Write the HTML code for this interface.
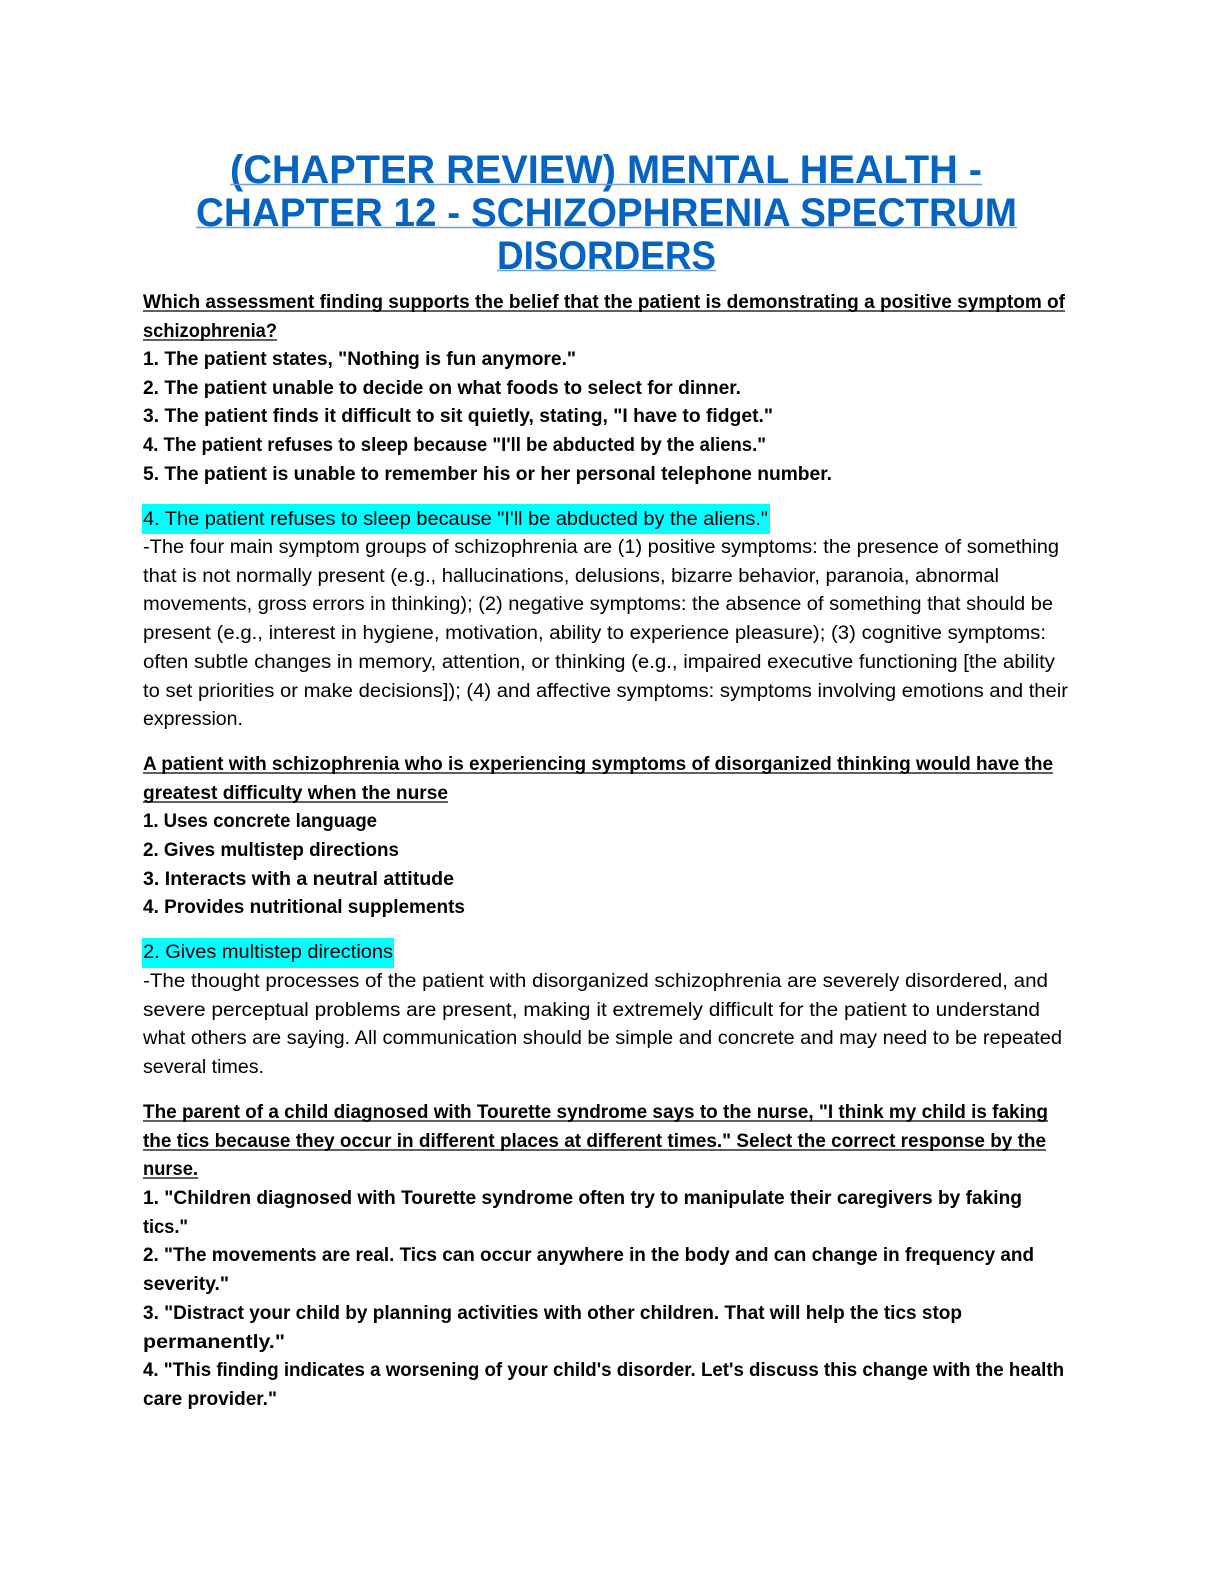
<!DOCTYPE html>
<html><head><meta charset="utf-8"><style>
html,body{margin:0;padding:0;background:#fff;overflow:hidden;width:1224px;height:1584px}
svg{display:block;position:absolute;left:0;top:0}
.t{font-family:"Liberation Sans",sans-serif;font-weight:bold;font-size:40px;fill:#0563c1}
.b{font-family:"Liberation Sans",sans-serif;font-size:19px;fill:#000}
.bb{font-family:"Liberation Sans",sans-serif;font-size:19px;font-weight:bold;fill:#000}
</style></head><body>
<svg width="1224" height="1584" viewBox="0 0 1224 1584" xmlns="http://www.w3.org/2000/svg">
<g class="t">
<text x="230" y="183" textLength="752" lengthAdjust="spacingAndGlyphs">(CHAPTER REVIEW) MENTAL HEALTH -</text>
<text x="196" y="226" textLength="821" lengthAdjust="spacingAndGlyphs">CHAPTER 12 - SCHIZOPHRENIA SPECTRUM</text>
<text x="497" y="269" textLength="219" lengthAdjust="spacingAndGlyphs">DISORDERS</text>
</g>
<g stroke="#6fa0dc" stroke-width="1.5">
<line x1="230" y1="184.5" x2="982" y2="184.5"/>
<line x1="196" y1="227.5" x2="1017" y2="227.5"/>
<line x1="497" y1="270.5" x2="716" y2="270.5"/>
</g>
<rect x="142" y="504" width="628" height="30" fill="#00ffff"/>
<rect x="142" y="938" width="252" height="30" fill="#00ffff"/>
<g class="bb">
<text x="143" y="308" textLength="922" lengthAdjust="spacingAndGlyphs">Which assessment finding supports the belief that the patient is demonstrating a positive symptom of</text>
<text x="143" y="337" textLength="134" lengthAdjust="spacingAndGlyphs">schizophrenia?</text>
<text x="143" y="365" textLength="433" lengthAdjust="spacingAndGlyphs">1. The patient states, "Nothing is fun anymore."</text>
<text x="143" y="394" textLength="598" lengthAdjust="spacingAndGlyphs">2. The patient unable to decide on what foods to select for dinner.</text>
<text x="143" y="422" textLength="630" lengthAdjust="spacingAndGlyphs">3. The patient finds it difficult to sit quietly, stating, "I have to fidget."</text>
<text x="143" y="451" textLength="623" lengthAdjust="spacingAndGlyphs">4. The patient refuses to sleep because "I'll be abducted by the aliens."</text>
<text x="143" y="480" textLength="689" lengthAdjust="spacingAndGlyphs">5. The patient is unable to remember his or her personal telephone number.</text>
<text x="143" y="770" textLength="910" lengthAdjust="spacingAndGlyphs">A patient with schizophrenia who is experiencing symptoms of disorganized thinking would have the</text>
<text x="143" y="799" textLength="305" lengthAdjust="spacingAndGlyphs">greatest difficulty when the nurse</text>
<text x="143" y="827" textLength="234" lengthAdjust="spacingAndGlyphs">1. Uses concrete language</text>
<text x="143" y="856" textLength="256" lengthAdjust="spacingAndGlyphs">2. Gives multistep directions</text>
<text x="143" y="885" textLength="311" lengthAdjust="spacingAndGlyphs">3. Interacts with a neutral attitude</text>
<text x="143" y="913" textLength="322" lengthAdjust="spacingAndGlyphs">4. Provides nutritional supplements</text>
<text x="143" y="1118" textLength="905" lengthAdjust="spacingAndGlyphs">The parent of a child diagnosed with Tourette syndrome says to the nurse, "I think my child is faking</text>
<text x="143" y="1147" textLength="903" lengthAdjust="spacingAndGlyphs">the tics because they occur in different places at different times." Select the correct response by the</text>
<text x="143" y="1175" textLength="55" lengthAdjust="spacingAndGlyphs">nurse.</text>
<text x="143" y="1204" textLength="879" lengthAdjust="spacingAndGlyphs">1. "Children diagnosed with Tourette syndrome often try to manipulate their caregivers by faking</text>
<text x="143" y="1233" textLength="45" lengthAdjust="spacingAndGlyphs">tics."</text>
<text x="143" y="1261" textLength="891" lengthAdjust="spacingAndGlyphs">2. "The movements are real. Tics can occur anywhere in the body and can change in frequency and</text>
<text x="143" y="1290" textLength="86" lengthAdjust="spacingAndGlyphs">severity."</text>
<text x="143" y="1319" textLength="819" lengthAdjust="spacingAndGlyphs">3. "Distract your child by planning activities with other children. That will help the tics stop</text>
<text x="143" y="1348" textLength="142" lengthAdjust="spacingAndGlyphs">permanently."</text>
<text x="143" y="1376" textLength="921" lengthAdjust="spacingAndGlyphs">4. "This finding indicates a worsening of your child's disorder. Let's discuss this change with the health</text>
<text x="143" y="1405" textLength="134" lengthAdjust="spacingAndGlyphs">care provider."</text>
</g>
<g stroke="#000" stroke-width="1.3">
<line x1="143" y1="311" x2="1065" y2="311"/>
<line x1="143" y1="340" x2="277" y2="340"/>
<line x1="143" y1="773" x2="1053" y2="773"/>
<line x1="143" y1="802" x2="448" y2="802"/>
<line x1="143" y1="1121" x2="1048" y2="1121"/>
<line x1="143" y1="1150" x2="1046" y2="1150"/>
<line x1="143" y1="1178" x2="198" y2="1178"/>
</g>
<g class="b">
<text x="143" y="525" textLength="625" lengthAdjust="spacingAndGlyphs">4. The patient refuses to sleep because "I'll be abducted by the aliens."</text>
<text x="143" y="553" textLength="916" lengthAdjust="spacingAndGlyphs">-The four main symptom groups of schizophrenia are (1) positive symptoms: the presence of something</text>
<text x="143" y="582" textLength="856" lengthAdjust="spacingAndGlyphs">that is not normally present (e.g., hallucinations, delusions, bizarre behavior, paranoia, abnormal</text>
<text x="143" y="610" textLength="910" lengthAdjust="spacingAndGlyphs">movements, gross errors in thinking); (2) negative symptoms: the absence of something that should be</text>
<text x="143" y="639" textLength="903" lengthAdjust="spacingAndGlyphs">present (e.g., interest in hygiene, motivation, ability to experience pleasure); (3) cognitive symptoms:</text>
<text x="143" y="668" textLength="912" lengthAdjust="spacingAndGlyphs">often subtle changes in memory, attention, or thinking (e.g., impaired executive functioning [the ability</text>
<text x="143" y="697" textLength="925" lengthAdjust="spacingAndGlyphs">to set priorities or make decisions]); (4) and affective symptoms: symptoms involving emotions and their</text>
<text x="143" y="725" textLength="100" lengthAdjust="spacingAndGlyphs">expression.</text>
<text x="143" y="958" textLength="250" lengthAdjust="spacingAndGlyphs">2. Gives multistep directions</text>
<text x="143" y="987" textLength="905" lengthAdjust="spacingAndGlyphs">-The thought processes of the patient with disorganized schizophrenia are severely disordered, and</text>
<text x="143" y="1016" textLength="897" lengthAdjust="spacingAndGlyphs">severe perceptual problems are present, making it extremely difficult for the patient to understand</text>
<text x="143" y="1044" textLength="919" lengthAdjust="spacingAndGlyphs">what others are saying. All communication should be simple and concrete and may need to be repeated</text>
<text x="143" y="1073" textLength="121" lengthAdjust="spacingAndGlyphs">several times.</text>
</g>
</svg>
</body></html>
